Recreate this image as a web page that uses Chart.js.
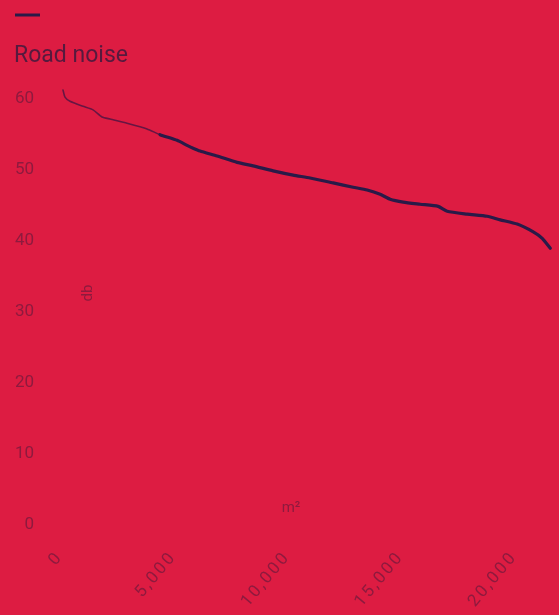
<!DOCTYPE html>
<html>
<head>
<meta charset="utf-8">
<script src="https://cdn.jsdelivr.net/npm/chart.js@4/dist/chart.umd.min.js"></script>
<style>
  html, body { margin: 0; padding: 0; background: #dd1c42; }
  #wrap { width: 559px; height: 615px; position: relative; }
</style>
</head>
<body>
<div id="wrap"><canvas id="c" width="559" height="615"></canvas></div>
<script>
// Road noise level (dB) against cumulative area (m²)
const seriesLabel = 'Road noise';
const areaM2 = [220, 308, 529, 1101, 1542, 1938, 2291, 3039, 3920, 4493, 5242, 5682, 5947, 6255, 7004, 7885, 8590, 9471, 10352, 11101, 12114, 12995, 13612, 14184, 14625, 15197, 15946, 16739, 17135, 18016, 18897, 19470, 20219, 20924, 21320, 21673];
const noiseDb = [61.3, 60.3, 59.7, 59.0, 58.5, 57.5, 57.2, 56.6, 55.8, 55.0, 54.2, 53.5, 53.1, 52.7, 52.0, 51.1, 50.6, 49.9, 49.3, 48.9, 48.2, 47.6, 47.2, 46.6, 45.9, 45.5, 45.2, 44.9, 44.2, 43.8, 43.5, 43.0, 42.4, 41.3, 40.4, 39.0];
const xTickValues = [0, 5000, 10000, 15000, 20000];
const yTickValues = [0, 10, 20, 30, 40, 50, 60];
const yTitle = 'db';
const xTitle = 'm²';
const thinUntil = 4400;

const ink = '#2a1a48';
const inkThin = 'rgba(58,20,66,0.72)';
const tickInk = '#8e1a3e';
const fontFamily = 'Roboto, "DejaVu Sans", sans-serif';

const points = areaM2.map((x, i) => ({ x, y: noiseDb[i] }));

const overlayText = {
  id: 'overlayText',
  afterDraw(chart) {
    const ctx = chart.ctx;
    ctx.save();
    // legend: short stroke above the series name
    ctx.strokeStyle = ink;
    ctx.lineWidth = 3;
    ctx.beginPath();
    ctx.moveTo(15, 15);
    ctx.lineTo(40, 15);
    ctx.stroke();
    ctx.fillStyle = '#561a3e';
    ctx.font = '23px ' + fontFamily;
    ctx.textBaseline = 'alphabetic';
    ctx.textAlign = 'left';
    ctx.fillText(chart.data.datasets[0].label, 14, 62);

    // x tick labels, slanted and loosely spaced
    const xs = chart.scales.x;
    ctx.fillStyle = tickInk;
    ctx.font = '17px ' + fontFamily;
    ctx.letterSpacing = '2.5px';
    ctx.textAlign = 'right';
    ctx.textBaseline = 'middle';
    xTickValues.forEach(v => {
      ctx.save();
      ctx.translate(xs.getPixelForValue(v) + 2, xs.top + 29);
      ctx.rotate(-50 * Math.PI / 180);
      ctx.fillText(v.toLocaleString('en-US'), 0, 0);
      ctx.restore();
    });
    ctx.letterSpacing = '0px';

    // axis titles
    ctx.font = '15px ' + fontFamily;
    ctx.textAlign = 'center';
    ctx.textBaseline = 'middle';
    ctx.fillText(xTitle, 291, 508);
    ctx.translate(88, 293);
    ctx.rotate(-Math.PI / 2);
    ctx.fillText(yTitle, 0, 0);
    ctx.restore();
  }
};

new Chart(document.getElementById('c'), {
  type: 'line',
  data: {
    datasets: [{
      label: seriesLabel,
      data: points,
      borderColor: ink,
      borderWidth: 3,
      pointRadius: 0,
      tension: 0.2,
      borderJoinStyle: 'round',
      borderCapStyle: 'round',
      segment: {
        borderWidth: c => c.p0.parsed.x < thinUntil ? 1.6 : 3.2,
        borderColor: c => c.p0.parsed.x < thinUntil ? inkThin : ink
      }
    }]
  },
  options: {
    responsive: false,
    animation: false,
    layout: { padding: { top: 85, right: 7, left: 0, bottom: 0 } },
    plugins: { legend: { display: false }, tooltip: { enabled: false } },
    scales: {
      x: {
        type: 'linear',
        min: 0,
        max: 21750,
        afterBuildTicks: s => { s.ticks = xTickValues.map(v => ({ value: v })); },
        afterFit: s => { s.height = 90; },
        grid: { display: false, drawTicks: false },
        border: { display: false },
        ticks: { display: false }
      },
      y: {
        min: 0,
        max: 62,
        afterBuildTicks: s => { s.ticks = yTickValues.map(v => ({ value: v })); },
        afterFit: s => { s.width = 58; },
        grid: { display: false, drawTicks: false },
        border: { display: false },
        ticks: {
          padding: 24,
          color: tickInk,
          font: { family: fontFamily, size: 17 }
        }
      }
    }
  },
  plugins: [overlayText]
});
</script>
</body>
</html>
